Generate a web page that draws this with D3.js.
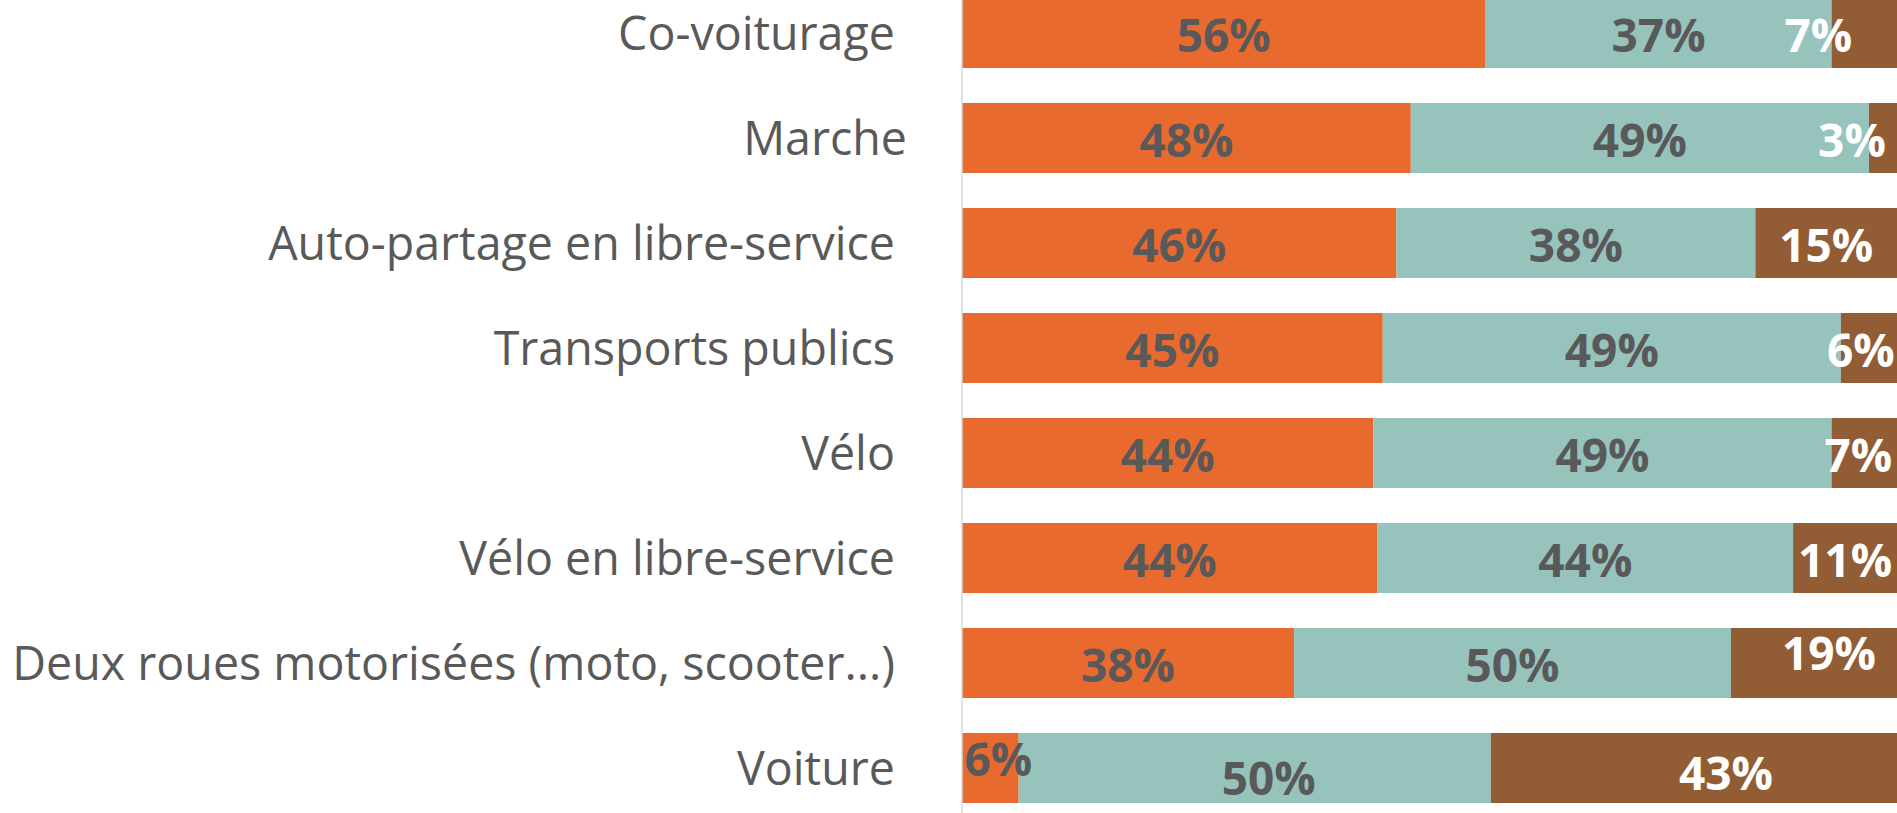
<!DOCTYPE html>
<html lang="fr">
<head>
  <meta charset="UTF-8">
  <title>Modes de transport</title>
  <script src="https://d3js.org/d3.v7.min.js"></script>
  <style>
    body { margin: 0; background: #fff; }
    svg { display: block; }
  </style>
</head>
<body>
<script>
  // data (raw percentages, bars are 100% stacked)
  const categories = [
    "Co-voiturage",
    "Marche",
    "Auto-partage en libre-service",
    "Transports publics",
    "Vélo",
    "Vélo en libre-service",
    "Deux roues motorisées (moto, scooter...)",
    "Voiture"
  ];
  const seriesKeys = ["a", "b", "c"];
  const valuesA = [56, 48, 46, 45, 44, 44, 38, 6];
  const valuesB = [37, 49, 38, 49, 49, 44, 50, 50];
  const valuesC = [7, 3, 15, 6, 7, 11, 19, 43];

  const width = 1897;
  const height = 813;
  const axisX = 962;
  const labelEnd = 907;

  const colors = { a: "#E96A2E", b: "#97C3BD", c: "#925D34" };
  const textColors = { a: "#595959", b: "#595959", c: "#ffffff" };

  // hand-moved data labels in the original chart (dx, dy in px)
  const nudges = {
    "Co-voiturage|c": [-46, 0],
    "Marche|c": [-31, 0],
    "Transports publics|c": [-8, 0],
    "Vélo|c": [-6, 0],
    "Deux roues motorisées (moto, scooter...)|c": [15, -12],
    "Voiture|a": [8, -11],
    "Voiture|b": [14, 8],
    "Voiture|c": [32, 3]
  };

  const rows = categories.map((cat, i) => ({
    cat: cat, a: valuesA[i], b: valuesB[i], c: valuesC[i]
  }));

  const stacked = d3.stack()
    .keys(seriesKeys)
    .offset(d3.stackOffsetExpand)(rows);

  const svg = d3.select("body").append("svg")
    .attr("width", width)
    .attr("height", height);

  const x = d3.scaleLinear().domain([0, 1]).range([axisX, width]);

  const y = d3.scaleBand()
    .domain(categories)
    .range([-19.5, 820.5])
    .paddingInner(1 / 3)
    .paddingOuter(1 / 6);

  // bars
  const layers = svg.append("g").selectAll("g")
    .data(stacked)
    .join("g")
    .attr("fill", d => colors[d.key]);

  layers.selectAll("rect")
    .data(d => d.map(p => ({ p: p, key: d.key })))
    .join("rect")
    .attr("x", d => x(d.p[0]))
    .attr("width", d => x(d.p[1]) - x(d.p[0]))
    .attr("y", d => y(d.p.data.cat))
    .attr("height", y.bandwidth());

  // vertical axis line + category labels
  const yAxis = svg.append("g")
    .attr("transform", "translate(" + axisX + ",0)")
    .call(d3.axisLeft(y)
      .tickSize(0)
      .tickPadding(axisX - labelEnd)
      .tickFormat(d => d === "Marche" ? d : d + "\u00a0"));

  yAxis.select(".domain")
    .attr("d", "M0," + 0 + "V" + height)
    .attr("stroke", "#d9d9d9")
    .attr("stroke-width", 1.5);

  const catLabels = yAxis.selectAll(".tick text")
    .attr("fill", "#595959")
    .style("font-family", "'Open Sans', sans-serif")
    .style("font-size", "40px")
    .attr("dy", "0.36em");

  // fit the font so the longest label spans the same width as the reference
  let maxLen = 0;
  catLabels.each(function () { maxLen = Math.max(maxLen, this.getComputedTextLength()); });
  const catSize = 40 * (labelEnd - 12) / maxLen;
  catLabels.style("font-size", catSize + "px");

  // value labels
  const valueSize = 46;
  const labelData = [];
  stacked.forEach(layer => {
    layer.forEach(p => {
      const cat = p.data.cat;
      const nudge = nudges[cat + "|" + layer.key] || [0, 0];
      labelData.push({
        key: layer.key,
        value: p.data[layer.key],
        cx: (x(p[0]) + x(p[1])) / 2 + nudge[0],
        cy: y(cat) + y.bandwidth() / 2 + 3 + nudge[1]
      });
    });
  });

  svg.append("g").selectAll("text")
    .data(labelData)
    .join("text")
    .attr("x", d => d.cx)
    .attr("y", d => d.cy + 0.357 * valueSize)
    .attr("text-anchor", "middle")
    .attr("fill", d => textColors[d.key])
    .style("font-family", "'Open Sans', sans-serif")
    .style("font-weight", "bold")
    .style("font-size", valueSize + "px")
    .text(d => d.value + "%");
</script>
</body>
</html>
